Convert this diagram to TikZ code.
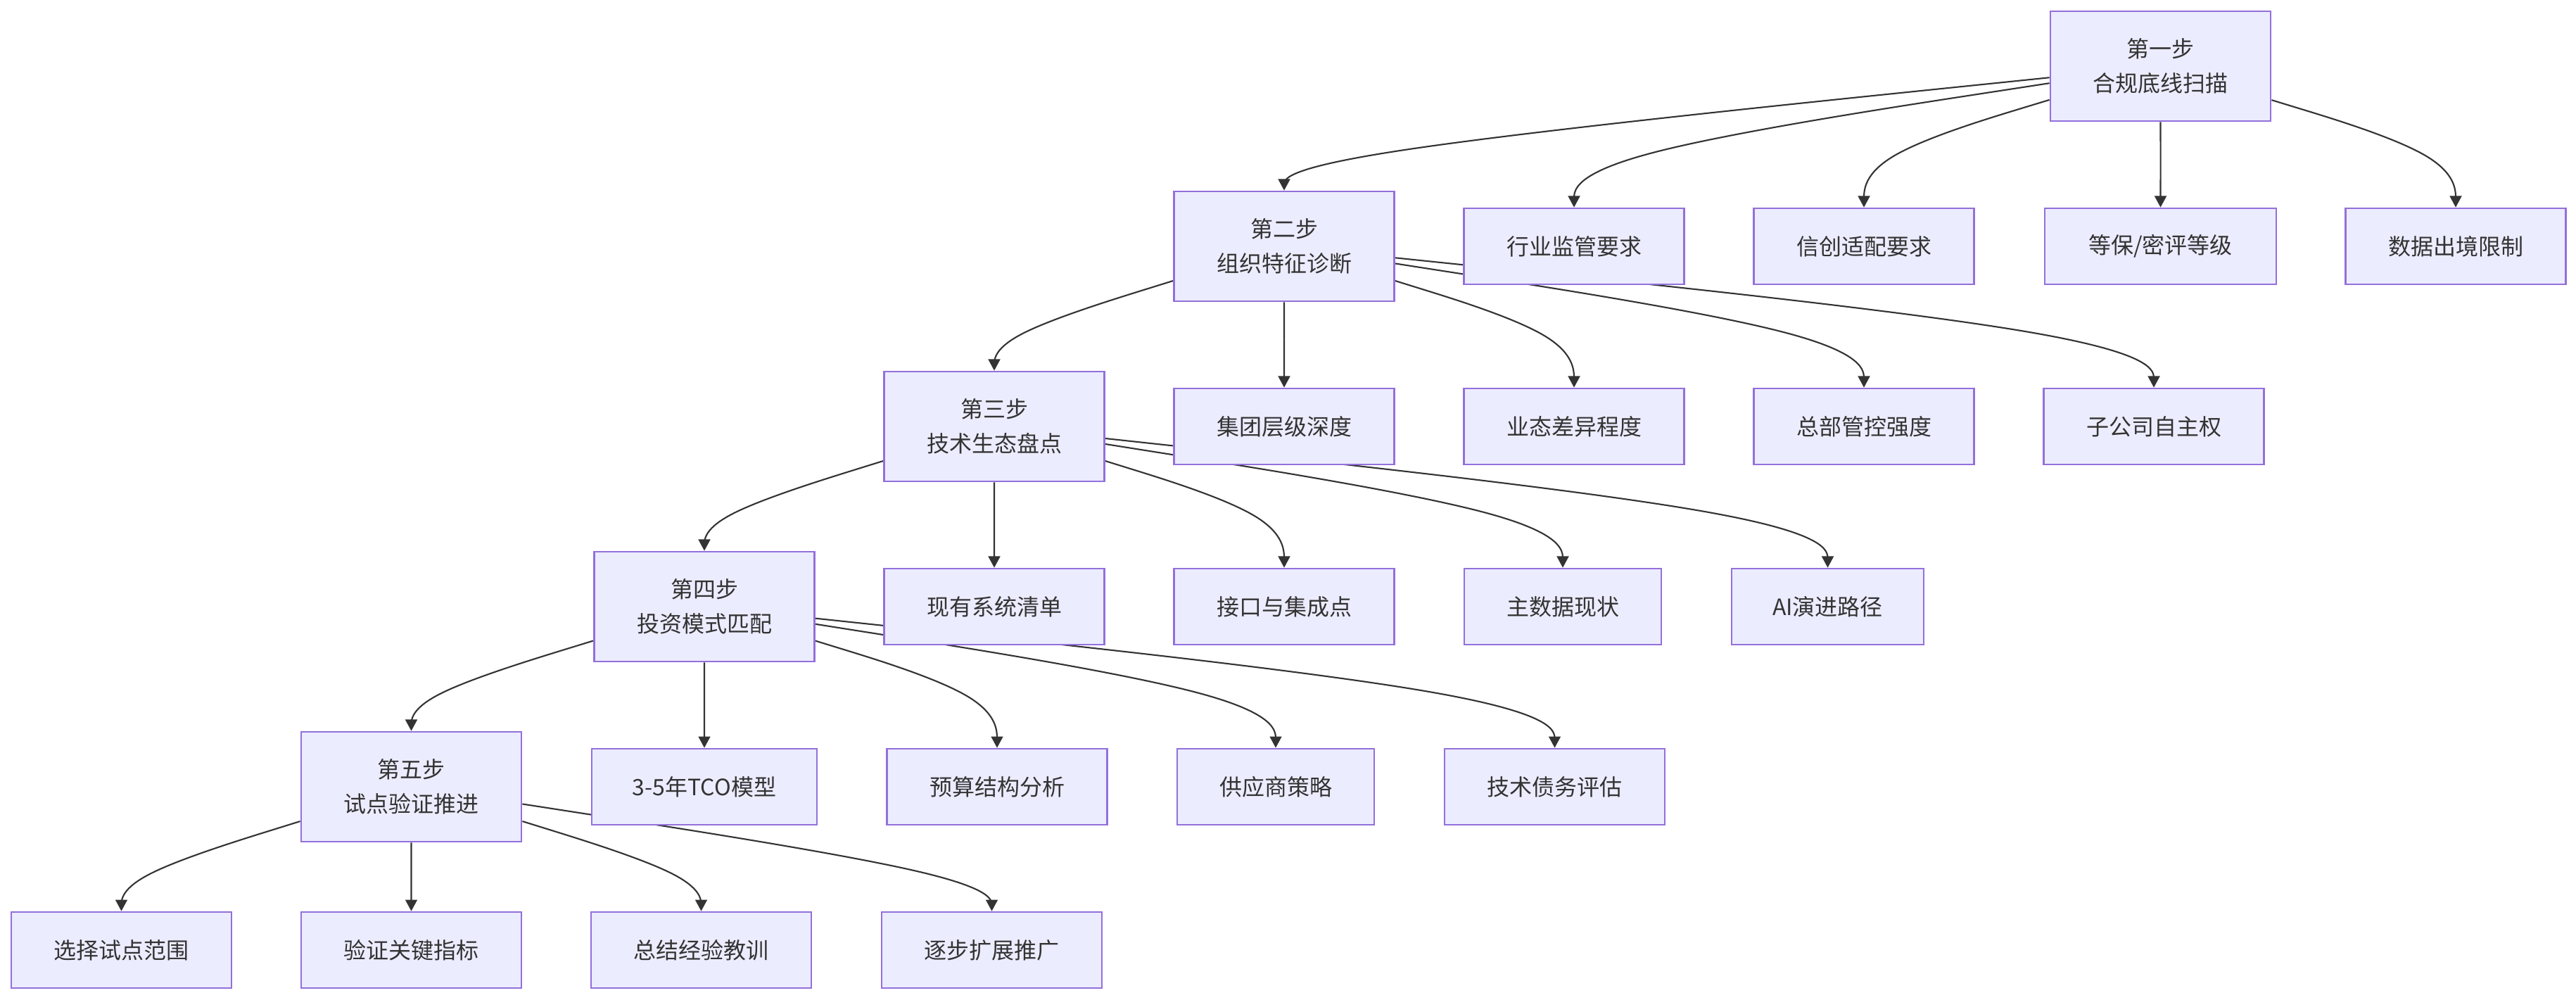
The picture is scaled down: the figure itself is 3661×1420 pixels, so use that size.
\documentclass[tikz,border=0pt]{standalone}
\usepackage{fontspec}
\newfontfamily\cjk{Noto Sans CJK SC}
\usetikzlibrary{calc,arrows.meta}
\pgfdeclarelayer{background}
\pgfsetlayers{background,main}
\definecolor{boxfill}{HTML}{ECECFF}
\definecolor{boxstroke}{HTML}{9370DB}
\definecolor{txtc}{HTML}{333333}
\definecolor{linec}{HTML}{333333}
\tikzset{
  basebox/.style={draw=boxstroke, fill=boxfill, line width=0.75pt, text=txtc,
    inner sep=0pt, align=center, font=\cjk\fontsize{9.1pt}{13.9pt}\selectfont},
  stepbox/.style={basebox, minimum width=3.13cm, minimum height=1.56cm},
  leafbox/.style={basebox, minimum height=1.08cm},
  edge/.style={draw=linec, line width=0.6pt, -{Triangle[length=4.6pt,width=4.8pt]}}
}
\newcommand\flowedge[3]{%
  \coordinate (fe-d) at (0,#3);
  \coordinate (fe-1) at (#2.north |- fe-d);
  \path (#1) -- (fe-1) coordinate[pos=0] (fe-0);
  \coordinate (fe-2) at (#2.north);
  \draw[edge] (fe-0) -- ($(fe-0)!1/6!(fe-1)$)
    .. controls ($(fe-0)!1/3!(fe-1)$) and ($(fe-0)!2/3!(fe-1)$) ..
    ($0.166667*(fe-0)+0.666667*(fe-1)+0.166667*(fe-2)$)
    .. controls ($(fe-1)!1/3!(fe-2)$) and ($(fe-1)!2/3!(fe-2)$) ..
    ($(fe-1)!5/6!(fe-2)$) -- (fe-2);
}
\begin{document}
\begin{tikzpicture}[x=0.01cm,y=-0.01cm]
\useasboundingbox (0,0) rectangle (3661,1420);
% rank 0
\node[stepbox] (s1) at (3070.5,94) {第一步\\合规底线扫描};
% rank 1
\node[stepbox] (s2) at (1825,350) {第二步\\组织特征诊断};
\node[leafbox, minimum width=3.13cm] (a1) at (2237,350) {行业监管要求};
\node[leafbox, minimum width=3.13cm] (a2) at (2649,350) {信创适配要求};
\node[leafbox, minimum width=3.29cm] (a3) at (3070.5,350) {等保/密评等级};
\node[leafbox, minimum width=3.13cm] (a4) at (3490,350) {数据出境限制};
% rank 2
\node[stepbox] (s3) at (1413,606) {第三步\\技术生态盘点};
\node[leafbox, minimum width=3.13cm] (b1) at (1825,606) {集团层级深度};
\node[leafbox, minimum width=3.13cm] (b2) at (2237,606) {业态差异程度};
\node[leafbox, minimum width=3.13cm] (b3) at (2649,606) {总部管控强度};
\node[leafbox, minimum width=3.13cm] (b4) at (3061,606) {子公司自主权};
% rank 3
\node[stepbox] (s4) at (1001,862) {第四步\\投资模式匹配};
\node[leafbox, minimum width=3.13cm] (c1) at (1413,862) {现有系统清单};
\node[leafbox, minimum width=3.13cm] (c2) at (1825,862) {接口与集成点};
\node[leafbox, minimum width=2.80cm] (c3) at (2221,862) {主数据现状};
\node[leafbox, minimum width=2.73cm] (c4) at (2597.5,862) {AI演进路径};
% rank 4
\node[stepbox] (s5) at (584.5,1118) {第五步\\试点验证推进};
\node[leafbox, minimum width=3.20cm] (d1) at (1001,1118) {3-5年TCO模型};
\node[leafbox, minimum width=3.13cm] (d2) at (1417,1118) {预算结构分析};
\node[leafbox, minimum width=2.80cm] (d3) at (1813,1118) {供应商策略};
\node[leafbox, minimum width=3.13cm] (d4) at (2209.5,1118) {技术债务评估};
% rank 5
\node[leafbox, minimum width=3.13cm] (e1) at (172.5,1350) {选择试点范围};
\node[leafbox, minimum width=3.13cm] (e2) at (584.5,1350) {验证关键指标};
\node[leafbox, minimum width=3.13cm] (e3) at (996.5,1350) {总结经验教训};
\node[leafbox, minimum width=3.13cm] (e4) at (1409.5,1350) {逐步扩展推广};
\begin{pgfonlayer}{background}
\flowedge{s1}{s2}{222}
\flowedge{s1}{a1}{222}
\flowedge{s1}{a2}{222}
\flowedge{s1}{a3}{222}
\flowedge{s1}{a4}{222}
\flowedge{s2}{s3}{478}
\flowedge{s2}{b1}{478}
\flowedge{s2}{b2}{478}
\flowedge{s2}{b3}{478}
\flowedge{s2}{b4}{478}
\flowedge{s3}{s4}{734}
\flowedge{s3}{c1}{734}
\flowedge{s3}{c2}{734}
\flowedge{s3}{c3}{734}
\flowedge{s3}{c4}{734}
\flowedge{s4}{s5}{990}
\flowedge{s4}{d1}{990}
\flowedge{s4}{d2}{990}
\flowedge{s4}{d3}{990}
\flowedge{s4}{d4}{990}
\flowedge{s5}{e1}{1246}
\flowedge{s5}{e2}{1246}
\flowedge{s5}{e3}{1246}
\flowedge{s5}{e4}{1246}
\end{pgfonlayer}
\end{tikzpicture}
\end{document}
